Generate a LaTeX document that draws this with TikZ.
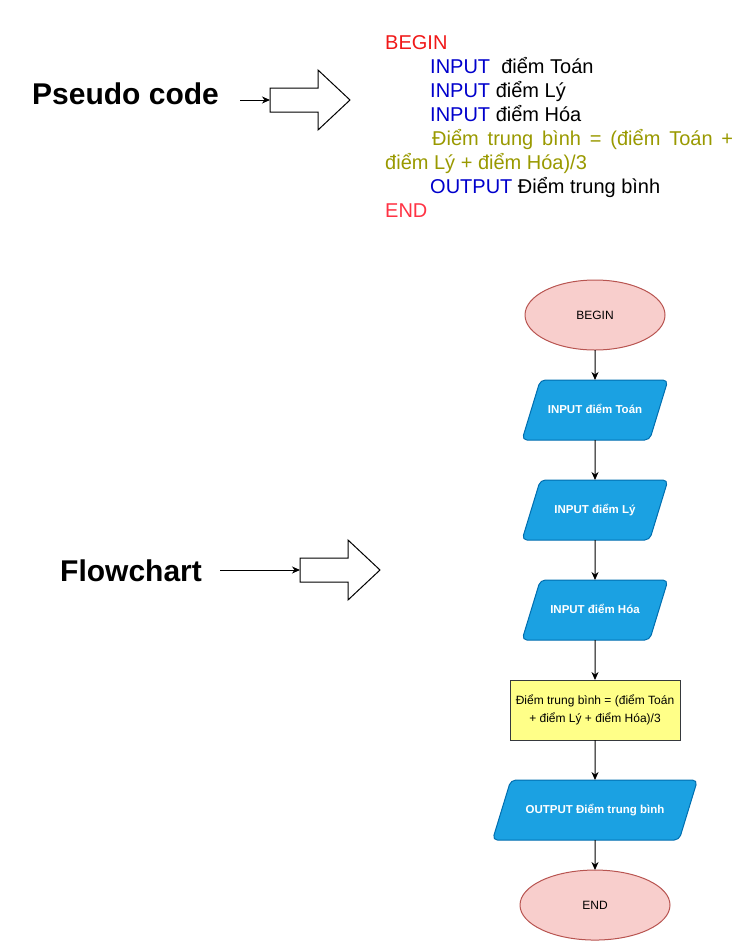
\documentclass[tikz,border=0pt]{standalone}
\usepackage{fontspec}
\setmainfont{Liberation Sans}
\usetikzlibrary{shapes.geometric,arrows.meta,positioning}
\definecolor{kwred}{HTML}{F01818}
\definecolor{kwend}{HTML}{FF3344}
\definecolor{kwblue}{HTML}{0000CC}
\definecolor{kwolive}{HTML}{999900}
\definecolor{termfill}{HTML}{F8CECC}
\definecolor{termline}{HTML}{B85450}
\definecolor{iofill}{HTML}{1BA1E2}
\definecolor{ioline}{HTML}{006EAF}
\definecolor{procfill}{HTML}{FFFF88}
\definecolor{procline}{HTML}{36393D}
\tikzset{
        title/.style={font=\fontsize{30}{34}\selectfont\bfseries, inner sep=0pt, anchor=base west},
        code/.style={font=\fontsize{20}{24}\selectfont, inner sep=0pt, anchor=base west},
        terminal/.style={ellipse, draw=termline, fill=termfill, line width=1pt, outer sep=0pt, minimum width=140pt, minimum height=70pt, inner sep=0pt, font=\fontsize{12}{14}\selectfont},
        io/.style={trapezium, trapezium left angle=73, trapezium right angle=107, trapezium stretches body=true, minimum width=146pt, text height=9pt, text depth=3pt, inner xsep=0pt, inner ysep=24pt, outer sep=0pt, rounded corners=5pt, draw=ioline, fill=iofill, line width=1pt, text=white, font=\fontsize{11.5}{14}\selectfont\bfseries},
        process/.style={rectangle, draw=procline, fill=procfill, line width=1pt, outer sep=0pt, minimum width=170pt, minimum height=60pt, align=center, font=\fontsize{12}{17.5}\selectfont},
        flow/.style={-{Stealth[length=8pt,width=7pt,inset=2.5pt]}, line width=1pt},
        blockarrow/.pic={\draw[line width=1pt] (0,-12) -- ++(48,0) -- ++(0,-18) -- ++(32,30) -- ++(-32,30) -- ++(0,-18) -- ++(-48,0) -- cycle;}
          }

\begin{document}
\begin{tikzpicture}[x=1pt, y=-1pt, node distance=40pt]
        \useasboundingbox (0,0) rectangle (744,951);
        % pseudo code part
        \node[title] (pcode) at (32,104) {Pseudo code};
        \coordinate (ptail) at (270,100);
        \draw[flow] (240,100) coordinate (pstart) -- (ptail);
        \pic at (ptail) {blockarrow};
        \node[code, text=kwred] (pbegin) at (385,49) {BEGIN};
        \node[code] (l1) at (430,73) {\textcolor{kwblue}{INPUT}\ \ điểm Toán};
        \node[code] (l2) at (430,97) {\textcolor{kwblue}{INPUT} điểm Lý};
        \node[code] (l3) at (430,121) {\textcolor{kwblue}{INPUT} điểm Hóa};
        \node[code, text=kwolive] (l4) at (432,145) {\makebox[301pt][s]{Điểm trung bình = (điểm Toán +}};
        \node[code, text=kwolive] (l5) at (385,169) {điểm Lý + điểm Hóa)/3};
        \node[code] (l6) at (430,193) {\textcolor{kwblue}{OUTPUT} Điểm trung bình};
        \node[code, text=kwend] (pend) at (385,217) {END};
        % flowchart part
        \node[title] (fchart) at (60,581) {Flowchart};
        \coordinate (ftail) at (300,570);
        \draw[flow] (220,570) coordinate (fstart) -- (ftail);
        \pic at (ftail) {blockarrow};
        \node[terminal] (fbegin) at (595,315) {BEGIN};
        \node[io, below=30pt of fbegin] (in1) {INPUT điểm Toán};
        \node[io, below=of in1] (in2) {INPUT điểm Lý};
        \node[io, below=of in2] (in3) {INPUT điểm Hóa};
        \node[process, below=of in3] (avg) {Điểm trung bình = (điểm Toán\\+ điểm Lý + điểm Hóa)/3};
        \node[io, minimum width=205pt, below=of avg] (out) {OUTPUT Điểm trung bình};
        \node[terminal, minimum width=150pt, below=30pt of out] (fend) {END};
        \draw[flow] (fbegin) -- (in1);
        \draw[flow] (in1) -- (in2);
        \draw[flow] (in2) -- (in3);
        \draw[flow] (in3) -- (avg);
        \draw[flow] (avg) -- (out);
        \draw[flow] (out) -- (fend);
\end{tikzpicture}
\end{document}
